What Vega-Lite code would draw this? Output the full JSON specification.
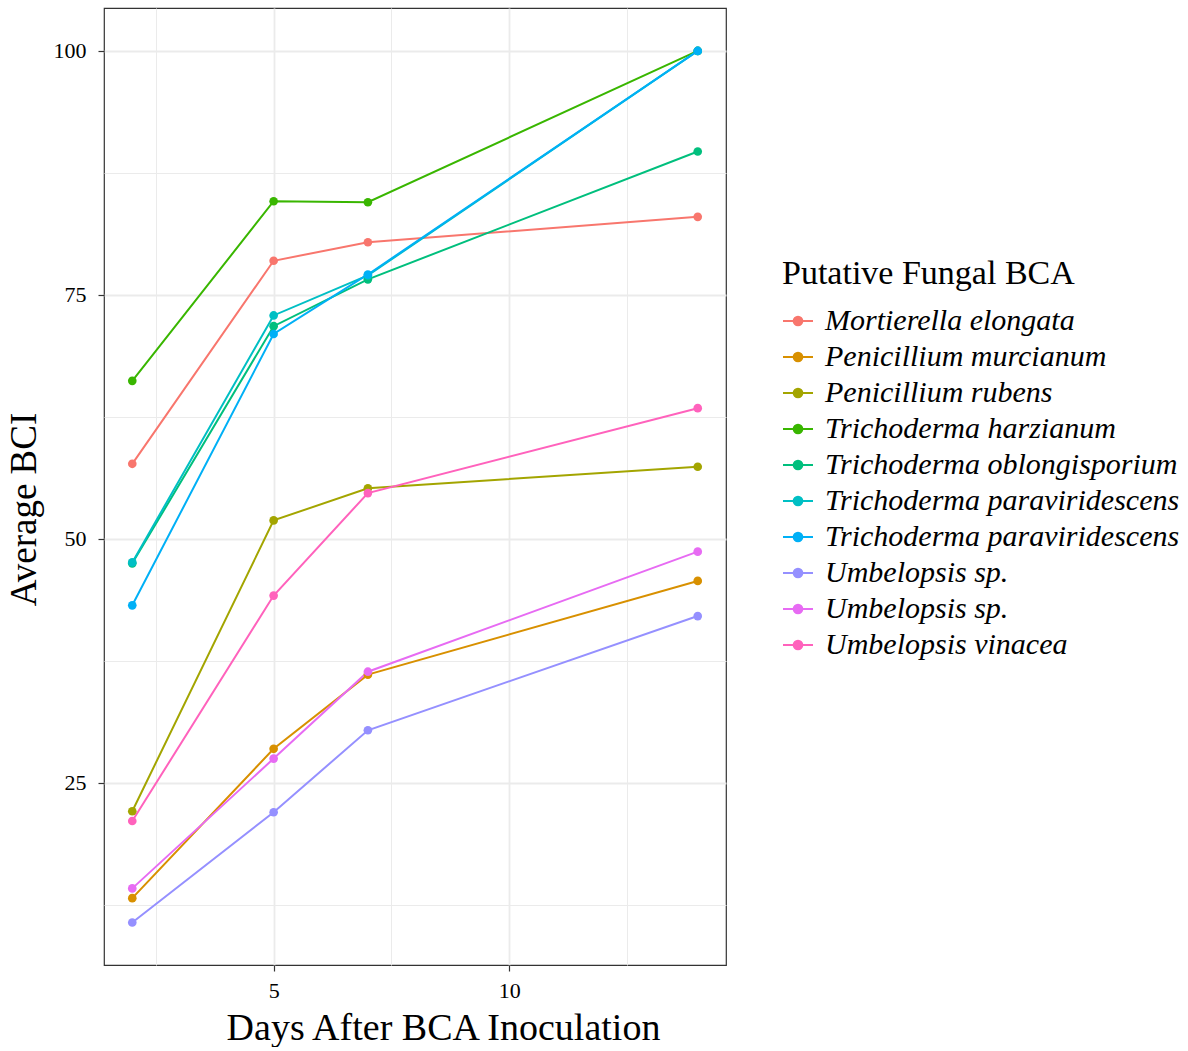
{
  "$schema": "https://vega.github.io/schema/vega-lite/v6.json",
  "width": 622,
  "height": 957,
  "padding": {"left": 5, "top": 8, "right": 0, "bottom": 0},
  "background": "white",
  "config": {
    "view": {"stroke": "#333333", "strokeWidth": 1.2},
    "font": "Liberation Serif"
  },
  "data": {
    "values": [
      {"bca": "Mortierella elongata", "day": 2, "bci": 57.7},
      {"bca": "Mortierella elongata", "day": 5, "bci": 78.5},
      {"bca": "Mortierella elongata", "day": 7, "bci": 80.4},
      {"bca": "Mortierella elongata", "day": 14, "bci": 83.0},
      {"bca": "Penicillium murcianum", "day": 2, "bci": 13.2},
      {"bca": "Penicillium murcianum", "day": 5, "bci": 28.5},
      {"bca": "Penicillium murcianum", "day": 7, "bci": 36.1},
      {"bca": "Penicillium murcianum", "day": 14, "bci": 45.7},
      {"bca": "Penicillium rubens", "day": 2, "bci": 22.1},
      {"bca": "Penicillium rubens", "day": 5, "bci": 51.9},
      {"bca": "Penicillium rubens", "day": 7, "bci": 55.2},
      {"bca": "Penicillium rubens", "day": 14, "bci": 57.4},
      {"bca": "Trichoderma harzianum", "day": 2, "bci": 66.2},
      {"bca": "Trichoderma harzianum", "day": 5, "bci": 84.6},
      {"bca": "Trichoderma harzianum", "day": 7, "bci": 84.5},
      {"bca": "Trichoderma harzianum", "day": 14, "bci": 100},
      {"bca": "Trichoderma oblongisporium", "day": 2, "bci": 47.5},
      {"bca": "Trichoderma oblongisporium", "day": 5, "bci": 71.8},
      {"bca": "Trichoderma oblongisporium", "day": 7, "bci": 76.6},
      {"bca": "Trichoderma oblongisporium", "day": 14, "bci": 89.7},
      {"bca": "Trichoderma paraviridescens #1", "day": 2, "bci": 47.6},
      {"bca": "Trichoderma paraviridescens #1", "day": 5, "bci": 72.9},
      {"bca": "Trichoderma paraviridescens #1", "day": 7, "bci": 77.0},
      {"bca": "Trichoderma paraviridescens #1", "day": 14, "bci": 100},
      {"bca": "Trichoderma paraviridescens #2", "day": 2, "bci": 43.2},
      {"bca": "Trichoderma paraviridescens #2", "day": 5, "bci": 71.0},
      {"bca": "Trichoderma paraviridescens #2", "day": 7, "bci": 77.1},
      {"bca": "Trichoderma paraviridescens #2", "day": 14, "bci": 100},
      {"bca": "Umbelopsis sp. #1", "day": 2, "bci": 10.7},
      {"bca": "Umbelopsis sp. #1", "day": 5, "bci": 22.0},
      {"bca": "Umbelopsis sp. #1", "day": 7, "bci": 30.4},
      {"bca": "Umbelopsis sp. #1", "day": 14, "bci": 42.1},
      {"bca": "Umbelopsis sp. #2", "day": 2, "bci": 14.2},
      {"bca": "Umbelopsis sp. #2", "day": 5, "bci": 27.5},
      {"bca": "Umbelopsis sp. #2", "day": 7, "bci": 36.4},
      {"bca": "Umbelopsis sp. #2", "day": 14, "bci": 48.7},
      {"bca": "Umbelopsis vinacea", "day": 2, "bci": 21.1},
      {"bca": "Umbelopsis vinacea", "day": 5, "bci": 44.2},
      {"bca": "Umbelopsis vinacea", "day": 7, "bci": 54.7},
      {"bca": "Umbelopsis vinacea", "day": 14, "bci": 63.4}
    ]
  },
  "encoding": {
    "x": {
      "field": "day",
      "type": "quantitative",
      "scale": {"domain": [1.4, 14.6], "nice": false, "zero": false},
      "axis": {
        "title": "Days After BCA Inoculation",
        "titleFont": "Liberation Serif",
        "titleFontSize": 38,
        "titleFontWeight": "normal",
        "titleColor": "black",
        "titlePadding": 8,
        "titleX": 339,
        "values": [2.5, 5, 7.5, 10, 12.5],
        "labelExpr": "datum.value % 5 == 0 ? datum.label : ''",
        "labelFont": "Liberation Serif",
        "labelFontSize": 22,
        "labelColor": "black",
        "labelPadding": 9,
        "domain": false,
        "tickSize": 6,
        "tickWidth": 1.2,
        "tickColor": {"condition": {"test": "datum.value % 5 != 0", "value": "transparent"}, "value": "#333333"},
        "gridColor": "#EBEBEB",
        "gridWidth": {"condition": {"test": "datum.value % 5 != 0", "value": 1}, "value": 1.8}
      }
    },
    "y": {
      "field": "bci",
      "type": "quantitative",
      "scale": {"domain": [6.35, 104.4], "nice": false, "zero": false},
      "axis": {
        "title": "Average BCI",
        "titleFont": "Liberation Serif",
        "titleFontSize": 37,
        "titleFontWeight": "normal",
        "titleColor": "black",
        "titlePadding": 10,
        "titleY": 501,
        "values": [12.5, 25, 37.5, 50, 62.5, 75, 87.5, 100],
        "labelExpr": "datum.value % 25 == 0 ? datum.label : ''",
        "labelFont": "Liberation Serif",
        "labelFontSize": 22,
        "labelColor": "black",
        "labelPadding": 12,
        "domain": false,
        "tickSize": 6,
        "tickWidth": 1.2,
        "tickColor": {"condition": {"test": "datum.value % 25 != 0", "value": "transparent"}, "value": "#333333"},
        "gridColor": "#EBEBEB",
        "gridWidth": {"condition": {"test": "datum.value % 25 != 0", "value": 1}, "value": 1.8}
      }
    },
    "color": {
      "field": "bca",
      "type": "nominal",
      "scale": {
        "domain": ["Mortierella elongata", "Penicillium murcianum", "Penicillium rubens", "Trichoderma harzianum", "Trichoderma oblongisporium", "Trichoderma paraviridescens #1", "Trichoderma paraviridescens #2", "Umbelopsis sp. #1", "Umbelopsis sp. #2", "Umbelopsis vinacea"],
        "range": ["#F8766D", "#D89000", "#A3A500", "#39B600", "#00BF7D", "#00BFC4", "#00B0F6", "#9590FF", "#E76BF3", "#FF62BC"]
      },
      "legend": {
        "title": "Putative Fungal BCA",
        "orient": "none",
        "legendX": 678,
        "legendY": 249,
        "titleFont": "Liberation Serif",
        "titleFontSize": 34,
        "titleFontWeight": "normal",
        "titleColor": "black",
        "titleLimit": 800,
        "titlePadding": 14,
        "labelFont": "Liberation Serif",
        "labelFontSize": 30,
        "labelFontStyle": "italic",
        "labelColor": "black",
        "labelLimit": 600,
        "labelOffset": 11,
        "labelExpr": "split(datum.label, ' #')[0]",
        "symbolType": "M-1,0L1,0M0.29,0A0.29,0.29,0,1,1,-0.29,0A0.29,0.29,0,1,1,0.29,0",
        "symbolSize": 900,
        "symbolStrokeWidth": 2,
        "symbolOpacity": 1,
        "rowPadding": 5,
        "encode": {
          "symbols": {
            "update": {
              "fill": {"scale": "color", "field": "value"},
              "stroke": {"scale": "color", "field": "value"}
            }
          }
        }
      }
    }
  },
  "layer": [
    {"mark": {"type": "line", "strokeWidth": 2}},
    {"mark": {"type": "point", "filled": true, "size": 75, "opacity": 1}}
  ]
}
